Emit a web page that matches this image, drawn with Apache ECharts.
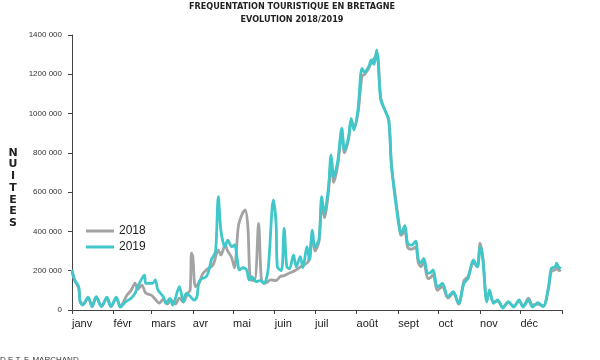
<!DOCTYPE html>
<html>
<head>
<meta charset="utf-8">
<script src="https://cdn.jsdelivr.net/npm/echarts@6/dist/echarts.min.js"></script>
<style>html,body{margin:0;padding:0;background:#fff}#c{width:600px;height:360px}</style>
</head>
<body>
<div id="c"></div>
<script>
const months = ['janv','févr','mars','avr','mai','juin','juil','août','sept','oct','nov','déc'];
const monthStarts = [0,31,59,90,120,151,181,212,243,273,304,334,365];
const yTicks = [0,200000,400000,600000,800000,1000000,1200000,1400000];

const days2018 = [0,2,5,6,8,12,15,18,22,26,29,33,36,41,44,47,49,52,55,59,62,65,68,71,74,77,80,83,86,88,89,90,92,95,97,100,105,109,111,114,116,119,121,124,127,129,131,133,136,139,141,143,145,148,152,155,158,162,166,169,173,176,179,181,184,186,188,191,193,195,198,201,203,206,208,210,213,216,218,221,223,225,227,228,230,233,236,238,242,244,245,248,250,253,256,258,260,262,265,267,269,272,274,276,280,284,288,292,295,299,302,304,306,309,311,314,317,321,325,329,333,336,340,343,347,351,355,357,360,361,363,364];
const nuitees2018 = [195,150,110,45,30,60,20,65,20,60,18,60,20,76,100,137,105,127,85,76,55,35,55,30,50,30,60,40,85,100,290,270,119,140,180,204,229,305,280,330,300,265,215,430,492,509,424,153,150,441,160,136,140,153,150,170,175,188,200,214,230,246,370,300,350,540,470,600,750,650,740,900,800,870,960,930,1000,1190,1200,1230,1260,1280,1300,1280,1080,1020,960,740,520,420,380,400,320,310,320,240,220,245,160,165,180,100,110,120,60,85,30,150,170,240,220,340,270,50,90,40,45,15,40,20,45,20,60,25,30,20,110,195,205,215,200,205];

const days2019 = [0,2,5,6,8,12,15,18,22,26,29,33,36,40,44,47,49,54,55,60,62,64,68,70,73,75,80,83,85,88,91,93,95,100,102,104,105,107,109,111,114,116,119,121,124,125,127,130,132,134,137,140,143,146,150,152,153,156,158,160,162,165,167,170,172,175,177,179,181,184,186,188,191,193,195,198,201,203,206,208,210,213,216,218,221,223,225,227,228,230,233,236,238,242,244,245,248,250,253,256,258,260,262,265,267,269,272,274,276,280,284,288,292,295,299,302,304,306,309,311,314,317,321,325,329,333,336,340,343,347,351,355,357,360,361,363,364];
const nuitees2019 = [205,153,119,42,25,65,17,68,17,65,17,65,15,42,60,85,119,178,136,136,153,102,68,34,59,25,119,42,85,70,50,65,150,170,204,260,270,300,577,400,322,356,322,331,214,204,215,204,153,170,144,150,136,200,560,443,220,200,416,220,210,280,220,271,215,322,255,407,322,360,577,492,620,789,679,760,925,815,880,976,916,1020,1230,1210,1239,1273,1250,1324,1270,1069,1018,967,730,500,410,390,430,340,330,350,255,240,263,187,190,204,119,125,136,68,93,34,136,161,255,220,322,260,42,102,34,51,10,42,15,51,15,51,15,37,17,119,212,220,238,212,220];

const toData = (d, v) => d.map((x, i) => [x, v[i] * 1000]);

const chart = echarts.init(document.getElementById('c'), null, {renderer: 'canvas'});
chart.setOption({
  animation: false,
  backgroundColor: '#fff',
  textStyle: {fontFamily: 'Liberation Sans'},
  grid: {left: 72, right: 38, top: 35, bottom: 50},
  legend: {
    orient: 'vertical', left: 86, top: 224.5, padding: 0, itemWidth: 28, itemHeight: 3, itemGap: 3,
    icon: 'rect',
    textStyle: {fontSize: 12, color: '#222', lineHeight: 13},
    data: ['2018', '2019']
  },
  xAxis: {
    type: 'value', min: 0, max: 365,
    axisLine: {show: true, lineStyle: {color: '#444', width: 1}},
    axisTick: {show: true, customValues: monthStarts, length: 4, lineStyle: {color: '#444'}},
    axisLabel: {
      customValues: monthStarts.slice(0, 12), align: 'left', margin: 8,
      fontSize: 11, color: '#222',
      formatter: v => months[monthStarts.indexOf(v)]
    },
    splitLine: {show: false}
  },
  yAxis: {
    type: 'value', min: 0, max: 1400000, interval: 200000,
    axisLine: {show: true, lineStyle: {color: '#444'}},
    axisTick: {show: true, length: 4, lineStyle: {color: '#444'}},
    axisLabel: {
      fontSize: 8, color: '#333', margin: 10,
      formatter: v => v === 0 ? '0' : (v / 1000) + ' 000'
    },
    splitLine: {show: false}
  },
  series: [
    {name: '2018', type: 'line', data: toData(days2018, nuitees2018), showSymbol: false, smooth: 0.3,
     color: '#a3a3a3', lineStyle: {width: 2.8, color: '#a3a3a3'}},
    {name: '2019', type: 'line', data: toData(days2019, nuitees2019), showSymbol: false, smooth: 0.3,
     color: '#3fc7c9', lineStyle: {width: 2.8, color: '#3fc7c9'}}
  ],
  graphic: [
    {type: 'text', x: 292, y: 2, style: {text: 'FREQUENTATION TOURISTIQUE EN BRETAGNE', fontFamily: 'DejaVu Sans Condensed', fontWeight: 'bold', fontSize: 9, fill: '#222', textAlign: 'center'}},
    {type: 'text', x: 292, y: 15, style: {text: 'EVOLUTION 2018/2019', fontFamily: 'DejaVu Sans Condensed', fontWeight: 'bold', fontSize: 9, fill: '#222', textAlign: 'center'}},
    {type: 'text', x: 13, y: 147, style: {text: 'N\nU\nI\nT\nE\nE\nS', fontFamily: 'DejaVu Sans', fontWeight: 'bold', fontSize: 11, lineHeight: 11.7, fill: '#222', textAlign: 'center'}},
    {type: 'text', x: 0, y: 356, style: {text: 'D.E.T. F. MARCHAND', fontFamily: 'Liberation Sans', fontSize: 8, fill: '#333'}}
  ]
});
</script>
</body>
</html>
